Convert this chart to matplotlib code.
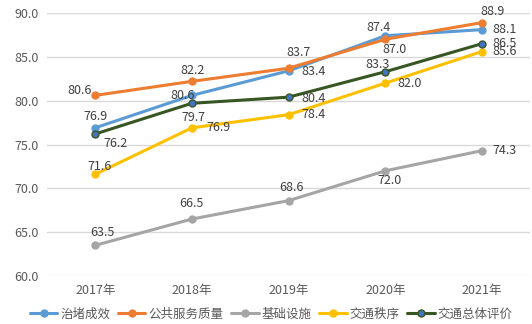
import matplotlib.pyplot as plt
import numpy as np

plt.rcParams['font.family'] = ['Noto Sans CJK SC', 'DejaVu Sans']

years = ["2017年", "2018年", "2019年", "2020年", "2021年"]
zhidu = [76.9, 80.6, 83.4, 87.4, 88.1]
gonggong = [80.6, 82.2, 83.7, 87.0, 88.9]
jichu = [63.5, 66.5, 68.6, 72.0, 74.3]
zhixu = [71.6, 76.9, 78.4, 82.0, 85.6]
zongti = [76.2, 79.7, 80.4, 83.3, 86.5]

names = ["治堵成效", "公共服务质量", "基础设施", "交通秩序", "交通总体评价"]
series = [zhidu, gonggong, jichu, zhixu, zongti]
colors = ["#5B9BD5", "#ED7D31", "#A5A5A5", "#FFC000", "#375623"]
mfaces = ["#5B9BD5", "#ED7D31", "#A5A5A5", "#FFC000", "#4472C4"]

# label centre offsets from each point, in pixels (dx right, dy down)
label_px = [
    [(0, -11), (-9, 0), (25, 1), (-7, -8), (23, 0)],
    [(-16, -5), (1, -11), (10, -16), (9, 10), (10, -11)],
    [(7, -13), (0, -16), (3, -13), (4, 10), (23, 0)],
    [(4, -8), (27, 0), (25, 0), (24, 0), (23, 0)],
    [(20, 10), (2, 14), (25, 1), (-8, -7), (23, 0)],
]

fig = plt.figure(figsize=(5.32, 3.24), dpi=100)
ax = fig.add_axes([0.088, 0.148, 0.909, 0.812])
x = np.arange(len(years))

for i, (name, vals) in enumerate(zip(names, series)):
    ax.plot(x, vals, color=colors[i], lw=2.2, marker="o", ms=5,
            mfc=mfaces[i], mec=colors[i], mew=1.0, label=name, zorder=3 + i,
            solid_capstyle="round")
    for j, v in enumerate(vals):
        dx, dy = label_px[i][j]
        ax.annotate(f"{v:.1f}", (x[j], v), xytext=(dx * 0.72, -dy * 0.72),
                    textcoords="offset points", ha="center", va="center",
                    fontsize=9, color="#404040", zorder=10)

ax.set_xlim(-0.5, 4.5)
ax.set_ylim(60, 90)
ticks = np.arange(60, 91, 5)
ax.set_yticks(ticks)
ax.set_yticklabels([f"{t:.1f}" for t in ticks])
ax.set_xticks(x)
ax.set_xticklabels(years)
ax.tick_params(length=0, labelsize=9, colors="#595959", pad=6)
ax.grid(axis="y", color="#D9D9D9", lw=1)
ax.set_axisbelow(True)
for s in ax.spines.values():
    s.set_visible(False)

fig.legend(loc="lower center", bbox_to_anchor=(0.51, -0.025), ncol=5, frameon=False,
           fontsize=9, handlelength=2.2, handletextpad=0.25, columnspacing=0.6,
           labelcolor="#595959")

fig.savefig("out.png", dpi=100)
